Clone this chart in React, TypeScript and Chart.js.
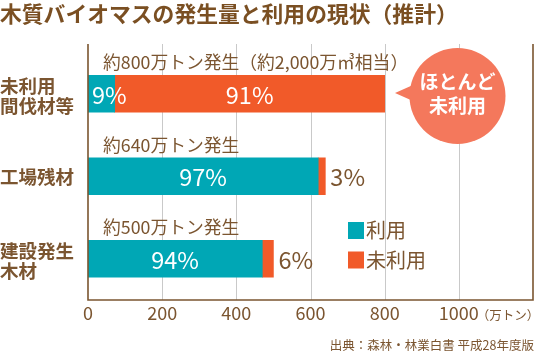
import React, { useEffect, useRef } from "react";
import { Chart, registerables } from "chart.js";

Chart.register(...registerables);

const categories = [["未利用", "間伐材等"], ["工場残材"], ["建設発生", "木材"]];
const totals = [800, 640, 500];
const usedPct = [9, 97, 94];
const unusedPct = [91, 3, 6];
const usedValues = [72, 620.8, 470];
const unusedValues = [728, 19.2, 30];
const totalLabels = ["約800万トン発生（約2,000万㎥相当）", "約640万トン発生", "約500万トン発生"];
const xTicks = [0, 200, 400, 600, 800, 1000];
const seriesNames = ["利用", "未利用"];

const TEAL = "#00a7b5";
const ORANGE = "#f15a29";
const BROWN = "#7b5530";
const BUBBLE = "#f4785c";
const FONT = "'Noto Sans CJK JP', 'Noto Sans', sans-serif";

export default function App() {
  const ref = useRef<HTMLCanvasElement | null>(null);
  useEffect(() => {
    document.body.style.margin = "0";
    const canvas = ref.current!;
    const overlay = {
      id: "overlay",
      beforeDatasetsDraw(chart: any) {
        const ctx = chart.ctx;
        const x = chart.scales.x;
        const top = 44;
        const bottom = chart.chartArea.bottom;
        ctx.save();
        ctx.strokeStyle = "#c9c9c9";
        ctx.lineWidth = 1;
        xTicks.forEach((v) => {
          if (v === 0) return;
          const px = Math.round(x.getPixelForValue(v)) + 0.5;
          ctx.beginPath();
          ctx.moveTo(px, top);
          ctx.lineTo(px, bottom);
          ctx.stroke();
        });
        ctx.restore();
      },
      afterDatasetsDraw(chart: any) {
        const ctx = chart.ctx;
        const x = chart.scales.x;
        const y = chart.scales.y;
        const area = chart.chartArea;
        const top = 44;
        ctx.save();
        ctx.strokeStyle = BROWN;
        ctx.lineWidth = 1.6;
        ctx.beginPath();
        ctx.moveTo(area.left, top);
        ctx.lineTo(area.left, area.bottom);
        ctx.lineTo(area.right, area.bottom);
        ctx.lineTo(area.right, top);
        ctx.stroke();

        ctx.fillStyle = "#7a4f22";
        ctx.font = `bold 21.8px ${FONT}`;
        ctx.textAlign = "left";
        ctx.textBaseline = "middle";
        ctx.fillText("木質バイオマスの発生量と利用の現状（推計）", 0, 14);

        categories.forEach((lines, i) => {
          const cy = y.getPixelForValue(i);
          ctx.fillStyle = BROWN;
          ctx.font = `bold 18.5px ${FONT}`;
          ctx.textAlign = "left";
          if (lines.length === 1) {
            ctx.fillText(lines[0], 0, cy + 1);
          } else {
            ctx.fillText(lines[0], 0, cy - 8);
            ctx.fillText(lines[1], 0, cy + 12);
          }
          const barTop = cy - 18.5;
          ctx.font = `17.8px ${FONT}`;
          ctx.fillStyle = BROWN;
          ctx.fillText(totalLabels[i], area.left + 15, barTop - 13);

          ctx.font = `23.5px ${FONT}`;
          const s0 = x.getPixelForValue(0);
          const e0 = x.getPixelForValue(usedValues[i]);
          const e1 = x.getPixelForValue(totals[i]);
          ctx.fillStyle = "#ffffff";
          const t0 = usedPct[i] + "%";
          const w0 = ctx.measureText(t0).width;
          const c0 = Math.max((s0 + e0) / 2, s0 + 4 + w0 / 2);
          ctx.textAlign = "center";
          ctx.fillText(t0, c0, cy + 1);
          const t1 = unusedPct[i] + "%";
          if (unusedPct[i] > 20) {
            ctx.fillText(t1, (e0 + e1) / 2, cy + 1);
          } else {
            ctx.fillStyle = BROWN;
            ctx.textAlign = "left";
            ctx.fillText(t1, e1 + 5, cy + 1);
          }
        });

        const lx = 348;
        const ly = [230.5, 260];
        [TEAL, ORANGE].forEach((c, k) => {
          ctx.fillStyle = c;
          ctx.fillRect(lx, ly[k] - 8.5, 16, 17);
          ctx.fillStyle = BROWN;
          ctx.font = `20px ${FONT}`;
          ctx.textAlign = "left";
          ctx.fillText(seriesNames[k], lx + 18, ly[k]);
        });

        const bx = 457.5, by = 96, br = 48;
        ctx.fillStyle = BUBBLE;
        ctx.beginPath();
        ctx.arc(bx, by, br, 0, Math.PI * 2);
        ctx.fill();
        ctx.beginPath();
        ctx.moveTo(395, 93);
        ctx.lineTo(413, 85);
        ctx.lineTo(413, 101);
        ctx.closePath();
        ctx.fill();
        ctx.fillStyle = "#ffffff";
        ctx.font = `bold 19px ${FONT}`;
        ctx.textAlign = "center";
        ctx.fillText("ほとんど", bx, 82);
        ctx.fillText("未利用", bx, 106);

        const p1000 = x.getPixelForValue(1000);
        ctx.fillStyle = BROWN;
        ctx.font = `12.5px ${FONT}`;
        ctx.textAlign = "left";
        ctx.fillText("（万トン）", p1000 + 18, 315);

        ctx.font = `12.5px ${FONT}`;
        ctx.textAlign = "right";
        ctx.fillText("出典：森林・林業白書 平成28年度版", 534, 345);
        ctx.restore();
      },
    };

    const chart = new Chart(canvas, {
      type: "bar",
      data: {
        labels: categories.map((c) => c.join("")),
        datasets: [
          { label: seriesNames[0], data: usedValues, backgroundColor: TEAL, barThickness: 37 },
          { label: seriesNames[1], data: unusedValues, backgroundColor: ORANGE, barThickness: 37 },
        ],
      },
      options: {
        indexAxis: "y",
        responsive: false,
        animation: false,
        layout: { padding: { top: 52.5, left: 88, right: 2, bottom: 0 } },
        plugins: { legend: { display: false }, tooltip: { enabled: false } },
        scales: {
          x: {
            stacked: true,
            min: 0,
            max: 1200,
            grid: { display: false, drawTicks: false, tickLength: 0 },
            border: { display: false },
            afterFit: (s: any) => { s.height = 54; },
            ticks: {
              stepSize: 200,
              padding: 2,
              color: BROWN,
              font: { size: 18, family: FONT },
              callback: (v: any) => (Number(v) === 1200 ? "" : String(v)),
            },
          },
          y: { stacked: true, display: false },
        },
      },
      plugins: [overlay],
    });
    return () => chart.destroy();
  }, []);
  return <canvas ref={ref} width={535} height={354} style={{ display: "block" }} />;
}
